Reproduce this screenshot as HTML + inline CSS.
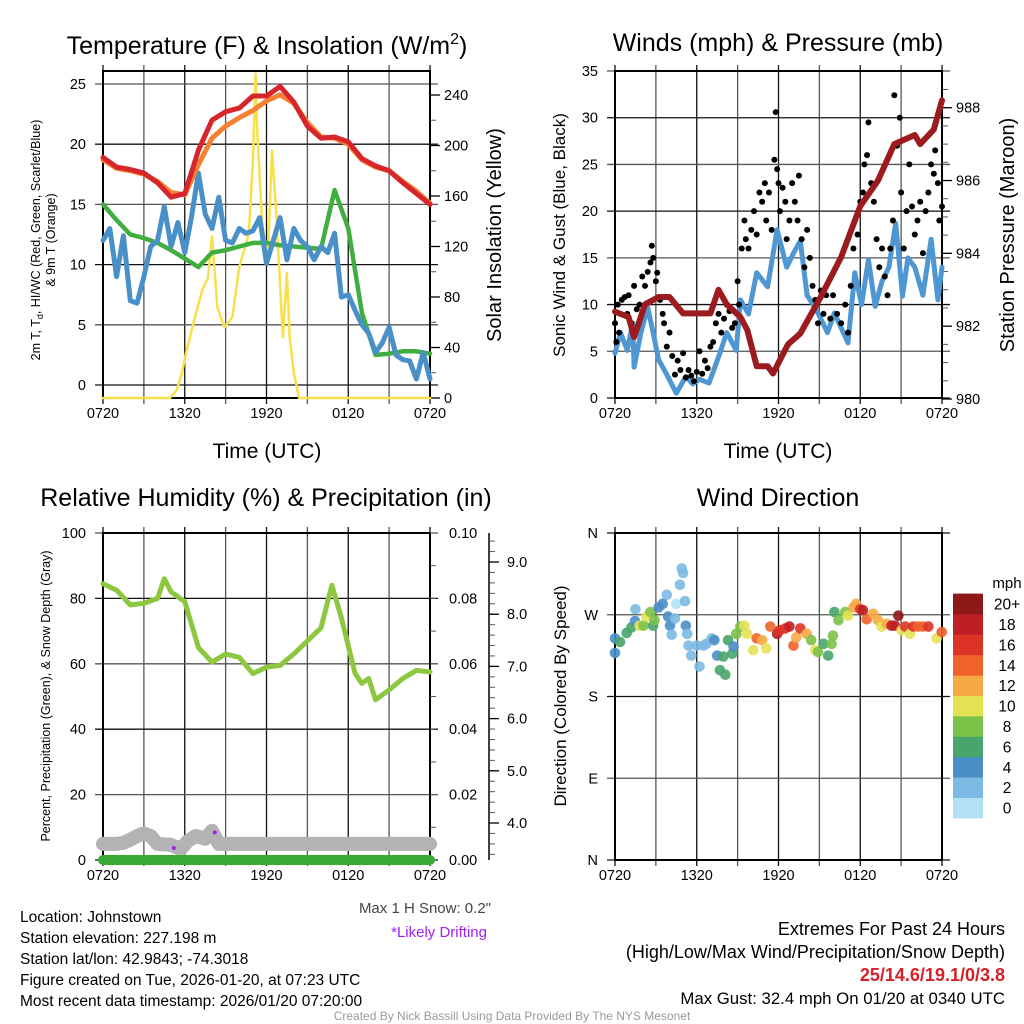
<!DOCTYPE html>
<html><head><meta charset="utf-8"><style>
html,body{margin:0;padding:0;background:#fff;}
svg{display:block;font-family:"Liberation Sans",Arial,sans-serif;}
</style></head><body>
<svg id="root" width="1024" height="1024" viewBox="0 0 1024 1024" xmlns="http://www.w3.org/2000/svg">
<rect width="1024" height="1024" fill="#fff"/>
<text x="267" y="54" font-size="25" text-anchor="middle">Temperature (F) &amp; Insolation (W/m<tspan font-size="16" dy="-10">2</tspan><tspan dy="10">)</tspan></text>
<text x="778" y="51" font-size="25" text-anchor="middle">Winds (mph) &amp; Pressure (mb)</text>
<text x="266" y="506" font-size="25" text-anchor="middle">Relative Humidity (%) &amp; Precipitation (in)</text>
<text x="778" y="506" font-size="25" text-anchor="middle">Wind Direction</text>
<text x="267" y="458" font-size="21" text-anchor="middle">Time (UTC)</text>
<text x="778" y="458" font-size="21" text-anchor="middle">Time (UTC)</text>
<text font-size="12.5" text-anchor="middle" transform="translate(40,240) rotate(-90)">2m T, T<tspan font-size="9" dy="3">d</tspan><tspan dy="-3">, HI/WC (Red, Green, Scarlet/Blue)</tspan></text>
<text font-size="12.5" text-anchor="middle" transform="translate(55,240) rotate(-90)">&amp; 9m T (Orange)</text>
<text font-size="20" text-anchor="middle" transform="translate(501,235) rotate(-90)">Solar Insolation (Yellow)</text>
<text font-size="17" text-anchor="middle" transform="translate(565,235) rotate(-90)">Sonic Wind &amp; Gust (Blue, Black)</text>
<text font-size="20" text-anchor="middle" transform="translate(1014,235) rotate(-90)">Station Pressure (Maroon)</text>
<text font-size="12.5" text-anchor="middle" transform="translate(50,696) rotate(-90)">Percent, Precipitation (Green), &amp; Snow Depth (Gray)</text>
<text font-size="17" text-anchor="middle" transform="translate(566,696) rotate(-90)">Direction (Colored By Speed)</text>
<text x="1007" y="588" font-size="15" text-anchor="middle">mph</text>
<g font-size="15.5">
<text x="20" y="922">Location: Johnstown</text>
<text x="20" y="943">Station elevation: 227.198 m</text>
<text x="20" y="964">Station lat/lon: 42.9843; -74.3018</text>
<text x="20" y="985">Figure created on Tue, 2026-01-20, at 07:23 UTC</text>
<text x="20" y="1006">Most recent data timestamp: 2026/01/20 07:20:00</text>
</g>
<text x="491" y="913" font-size="15" fill="#444" text-anchor="end">Max 1 H Snow: 0.2"</text>
<text x="487" y="937" font-size="15" fill="#a020f0" text-anchor="end">*Likely Drifting</text>
<g font-size="18" text-anchor="end">
<text x="1005" y="935">Extremes For Past 24 Hours</text>
<text x="1005" y="958">(High/Low/Max Wind/Precipitation/Snow Depth)</text>
<text x="1005" y="981" fill="#d42027" font-weight="bold">25/14.6/19.1/0/3.8</text>
<text x="1005" y="1004" font-size="16.8">Max Gust: 32.4 mph On 01/20 at 0340 UTC</text>
</g>
<text x="512" y="1020" font-size="12" fill="#999" text-anchor="middle">Created By Nick Bassill Using Data Provided By The NYS Mesonet</text>
</svg>
<script>
const timeTicks = ['0720','1320','1920','0120','0720'];
const tempTicks = [0,5,10,15,20,25];
const solarTicks = [0,40,80,120,160,200,240];
const windTicks = [0,5,10,15,20,25,30,35];
const presTicks = [980,982,984,986,988];
const rhTicks = [0,20,40,60,80,100];
const precipTicks = ['0.00','0.02','0.04','0.06','0.08','0.10'];
const snowTicks = [4,5,6,7,8,9];
const dirTicks = ['N','E','S','W','N'];
const speedLabels = ['0','2','4','6','8','10','12','14','16','18','20+'];
const speedColors = ['#b3e0f5','#7cb9e3','#4a8ec6','#48a56c','#7cc148','#e5e155','#f6aa45','#ef622a','#dd3326','#bf1e24','#8e1718'];

const hourly = [0,1,2,3,4,5,6,7,8,9,10,11,12,13,14,15,16,17,18,19,20,21,22,23,24];
const tempRed = [18.9,18.1,17.9,17.6,16.8,15.6,15.9,19.5,22.0,22.7,23.0,24.0,24.0,24.8,23.5,21.5,20.5,20.6,20.2,18.8,18.2,17.8,16.8,15.9,15.0];
const tempOrange = [18.7,18.0,17.8,17.5,16.9,16.0,15.8,18.3,20.5,21.5,22.2,22.8,23.6,24.1,23.4,21.8,20.6,20.5,20.0,18.7,18.1,17.8,16.9,16.1,15.1];
const dewGreen = [15,13.7,12.5,12.2,11.8,11.2,10.5,9.8,11,11.2,11.5,11.8,11.8,11.6,11.5,11.4,11.3,16.2,13,6,2.5,2.6,2.8,2.8,2.6];
const halfHourly = [0,0.5,1,1.5,2,2.5,3,3.5,4,4.5,5,5.5,6,6.5,7,7.5,8,8.5,9,9.5,10,10.5,11,11.5,12,12.5,13,13.5,14,14.5,15,15.5,16,16.5,17,17.5,18,18.5,19,19.5,20,20.5,21,21.5,22,22.5,23,23.5,24];
const windChill = [12,13,9,12.4,7,6.8,9,11.5,12,14.8,11.5,13.5,11,14,17.6,14.2,13,15.6,12,11.8,13,12.6,12.8,13.9,10.1,12,13.9,10.4,13,12,11.5,10.4,11.5,11,12.6,7.3,7.5,6.2,5,4.3,2.7,3.5,4.8,2.5,2.1,2,0.5,2.7,0.5];
const solarTimes = [0,4.9,5.4,5.8,6.1,6.7,7.3,7.7,8.0,8.4,8.9,9.5,10.0,10.7,11.0,11.2,11.3,11.7,12.1,12.4,12.7,13.2,13.5,13.7,14.0,14.4,24];
const solarValues = [0,0,6,20,36,62,86,95,128,72,56,64,104,130,188,257,215,136,112,196,150,48,99,48,20,0,0];

const presTimes = [0,1.0,1.4,2.2,3.2,4.0,5.0,6.0,7.0,7.6,8.2,9.2,9.7,10.4,11.2,11.6,12.7,13.6,15.1,16.6,18.0,19.3,20.5,22.0,22.4,23.4,24];
const presValues = [982.4,982.25,981.7,982.6,982.8,982.8,982.35,982.35,982.35,983.0,982.6,982.25,981.9,980.9,980.9,980.7,981.5,981.8,982.8,983.9,985.3,986.0,987.0,987.25,987.0,987.4,988.2];
const sonicTimes = [0,0.4,0.9,1.3,1.4,1.9,2.4,2.8,3.2,3.8,4.5,5.2,5.7,6.2,6.9,7.7,8.2,8.9,9.2,9.8,10.4,11.2,11.9,12.6,13.1,13.6,14.1,14.8,15.6,16.1,16.6,17.1,17.6,18.1,18.6,19.1,19.6,20.1,20.6,21.1,21.5,22.0,22.6,23.2,23.7,24];
const sonicValues = [4.8,7,5.1,8,3.3,7,9.7,7,4.1,2.5,0.5,2.3,1.5,2,1.6,4.8,7,5.1,10.5,9,13.4,11.9,18,14,15.5,16.8,11,9.4,7,9.1,7.5,5.9,13.4,10,14.8,9.8,12.5,14,18.7,10.9,15,14,11,17,10.5,14];
const gustTimes = [0,0.1,0.2,0.3,0.5,0.7,0.9,1.0,1.2,1.4,1.6,1.8,2.0,2.2,2.4,2.6,2.7,2.8,3.0,3.1,3.3,3.5,3.6,3.8,4.0,4.2,4.4,4.6,4.8,5.0,5.2,5.4,5.6,5.8,6.0,6.2,6.4,6.6,6.8,7.0,7.2,7.4,7.6,7.8,8.0,8.2,8.4,8.6,8.8,9.0,9.1,9.3,9.5,9.6,9.8,10.0,10.2,10.4,10.6,10.8,11.0,11.1,11.3,11.5,11.7,11.8,11.9,12.0,12.1,12.3,12.5,12.6,12.8,13.0,13.2,13.4,13.5,13.7,13.9,14.1,14.3,14.5,14.7,14.9,15.1,15.3,15.5,15.8,16.0,16.3,16.6,16.9,17.1,17.3,17.5,17.6,17.8,18.0,18.2,18.3,18.5,18.6,18.8,19.0,19.2,19.4,19.6,19.8,20.0,20.2,20.4,20.5,20.7,20.9,21.0,21.2,21.4,21.6,21.8,22.0,22.2,22.4,22.6,22.8,23.0,23.2,23.4,23.5,23.7,23.8,24.0];
const gustValues = [8,6,10,7,10.5,10.8,9,11,8,12,9.5,10,13,12,13.5,14.5,16.3,15,12.5,13.4,10.5,9,8,5.5,7,4.5,2.5,4,3,4.8,2.2,3,2.4,1.8,2.8,5,2.6,4,3.2,5.5,6,8,9,7,8.5,10,9.3,7.5,8,12.5,10,16,19,17,16,18,20,17.5,22,21,23,19,22,18,25.5,30.6,24.5,23,20,22.5,21,17,19,23,21,19,23.8,17,14,18,15,12,10.5,8,11.5,9,11,8.5,11,9,8,10,7,12,16,19,17.5,21,22,25,26,29.5,23,21,17,14,16,13,11,16,19,32.4,27,30,22,16,20,25,20.5,17.5,19,21,15.5,20,22,25,24,26.5,23,19,20.5];

const rhTimes = [0,1,2,3,4,4.5,5,6,7,8,9,10,11,12,13,14,15,16,16.8,17.5,18.5,19,19.5,20,21,22,23,24];
const rhValues = [84.5,82.5,78,78.5,80,86,82,79,65,60.5,63,62,57,59,59.5,63,67,71,84,74,57,54,55.5,49,52,55.5,58,57.5];
const precipValues = [0,0,0,0,0,0,0,0,0,0,0,0,0,0,0,0,0,0,0,0,0,0,0,0,0];
const snowTimes = [0,1,1.5,2,2.5,3,3.5,4,5,5.7,6.2,6.8,7.5,8,8.5,9,12,16,20,24];
const snowValues = [3.6,3.6,3.62,3.68,3.75,3.8,3.75,3.6,3.58,3.5,3.65,3.75,3.7,3.85,3.6,3.6,3.6,3.6,3.6,3.6];
const driftTimes = [5.2,8.2];
const driftValues = [3.52,3.82];

const dirTimes = [0,0,0.37,0.86,1.2,1.47,1.5,1.8,2.1,2.3,2.6,2.8,2.9,3.2,3.5,3.8,3.9,4.04,4.16,4.4,4.5,4.77,4.9,5.0,5.14,5.2,5.3,5.4,5.6,6.0,6.2,6.5,6.7,7.1,7.3,7.5,7.7,7.95,8.1,8.3,8.6,8.7,8.9,9.2,9.5,9.7,10.15,10.4,10.8,11.1,11.4,11.9,12.1,12.5,12.8,13.1,13.3,13.6,14.07,14.4,14.7,14.9,15.3,15.65,15.9,16.0,16.1,16.4,16.9,17.1,17.5,17.7,18.0,18.2,18.47,18.96,19.3,19.57,19.94,20.3,20.55,20.8,21.04,21.3,21.65,21.9,22.26,22.6,23.0,23.6,23.98];
const dirValues = [244,228,240,250,256,263,276,258,258,268,273,258,264,278,282,292,268,258,248,266,282,303,321,316,285,258,249,236,225,236,213,236,238,244,242,225,209,224,204,242,227,235,249,257,258,249,231,244,242,233,257,249,253,255,257,236,245,255,249,242,231,229,238,225,238,247,273,264,273,269,278,282,276,275,265,271,264,257,260,258,258,269,253,257,249,257,257,257,257,244,251];
const dirSpeeds = [4,4,6,6,6,4,2,10,8,10,8,6,8,4,4,2,4,4,2,2,0,2,2,2,2,4,2,2,2,2,2,2,2,2,4,4,6,6,6,6,6,4,8,8,10,10,10,14,12,10,14,18,16,16,18,14,12,16,12,8,10,8,6,6,8,8,6,8,8,10,12,12,16,18,14,12,12,10,12,18,18,20,10,16,10,16,14,14,16,10,14];

const NS='http://www.w3.org/2000/svg';
const root=document.getElementById('root');
function mk(tag,attrs,parent){const e=document.createElementNS(NS,tag);for(const k in attrs)e.setAttribute(k,attrs[k]);(parent||root).appendChild(e);return e;}

function axisX(x0,x1){return h=>x0+(x1-x0)*h/24;}
function lin(v0,y0,v1,y1){return v=>y0+(v-v0)*(y1-y0)/(v1-v0);}

function panel(name,x0,x1,y0,y1,hYs,leftTicks,leftYs){
  const g=mk('g',{});
  
  
  for(let i=0;i<=8;i++){
    const x=x0+(x1-x0)*i/8;
    const l=mk('line',{x1:x,x2:x,y1:y0-6,y2:y1+6,stroke:i%2?'#555':'#111','stroke-width':1.3},g);
    
    
  }
  hYs.forEach((y,i)=>{
    const l=mk('line',{x1:x0-8,x2:x1+8,y1:y,y2:y,stroke:i%2?'#555':'#111','stroke-width':1.3},g);
    
    
  });
  const f=mk('rect',{x:x0,y:y0,width:x1-x0,height:y1-y0,fill:'none',stroke:'#000','stroke-width':2},g);
  
  
  timeTicks.forEach((t,i)=>{
    const tx=mk('text',{x:x0+(x1-x0)*i/4,y:y1+20,'font-size':14.5,'text-anchor':'middle'},g);
    
    
    tx.textContent=t;
  });
  leftTicks.forEach((t,i)=>{
    const tx=mk('text',{x:x0-17,y:leftYs[i]+5,'font-size':14.5,'text-anchor':'end'},g);
    
    
    tx.textContent=t;
  });
  return g;
}
function rightAxis(x,ticks,yf,minorStep,vmin,vmax){
  for(let v=vmin;v<=vmax+1e-9;v+=minorStep){
    const l=mk('line',{x1:x,x2:x+6,y1:yf(v),y2:yf(v),stroke:'#555','stroke-width':1});
    
    
  }
  ticks.forEach(t=>{
    const l=mk('line',{x1:x,x2:x+10,y1:yf(t),y2:yf(t),stroke:'#000','stroke-width':1.3});
    
    
    const tx=mk('text',{x:x+14,y:yf(t)+5,'font-size':14.5});
    
    
    tx.textContent=t;
  });
}
function path(xs,ys,xf,yf,color,w,name){
  let d='';xs.forEach((h,i)=>{d+=(i?'L':'M')+xf(h).toFixed(1)+','+yf(ys[i]).toFixed(1);});
  const p=mk('path',{d:d,fill:'none',stroke:color,'stroke-width':w,'stroke-linejoin':'round','stroke-linecap':'round'});
  
  
  return p;
}

// Top-left
const xTL=axisX(103,430), yT=lin(0,385,25,84), yS=lin(0,398,240,95);
panel('temperature-panel',103,430,71,398,tempTicks.map(yT),tempTicks,tempTicks.map(yT));
rightAxis(430,solarTicks,yS,20,0,250);
path(solarTimes,solarValues,xTL,yS,'#f9e04b',2.5,'solar-insolation-line');
path(hourly,dewGreen,xTL,yT,'#3fae3f',4.5,'dewpoint-line');
path(halfHourly,windChill,xTL,yT,'#4a90c8',5,'wind-chill-line');
path(hourly,tempOrange,xTL,yT,'#f58232',5,'temp-9m-line');
path(hourly,tempRed,xTL,yT,'#d7262b',5,'temp-2m-line');

// Top-right
const xTR=axisX(615,942), yW=lin(0,398,35,71), yP=lin(980,399,988,107.7);
panel('wind-panel',615,942,71,398,windTicks.map(yW),windTicks,windTicks.map(yW));
rightAxis(942,presTicks,yP,0.5,980,988.5);
path(sonicTimes,sonicValues,xTR,yW,'#4f97d2',5,'sonic-wind-line');
gustTimes.forEach((h,i)=>{
  const c=mk('circle',{cx:xTR(h),cy:yW(gustValues[i]),r:3,fill:'#000'});
  
  
});
path(presTimes,presValues,xTR,yP,'#9b1b1e',6,'pressure-line');

// Bottom-left
const xBL=axisX(103,430), yRH=lin(0,860,100,533), ySn=lin(4,823,9,562);
panel('humidity-panel',103,430,533,860,rhTicks.map(yRH),rhTicks,rhTicks.map(yRH));
rightAxis(430,[],yRH,10,0,100);
precipTicks.forEach((t,i)=>{
  const tx=mk('text',{x:449,y:yRH(i*20)+5,'font-size':14.5});
  
  
  tx.textContent=t;
});
const sax=mk('line',{x1:489,x2:489,y1:533,y2:860,stroke:'#000','stroke-width':1.5});


for(let v=3.4;v<=9.5;v+=0.2){
  const l=mk('line',{x1:489,x2:495,y1:ySn(v),y2:ySn(v),stroke:'#555','stroke-width':1});
  
  
}
snowTicks.forEach(t=>{
  const l=mk('line',{x1:489,x2:499,y1:ySn(t),y2:ySn(t),stroke:'#000','stroke-width':1.3});
  
  
  const tx=mk('text',{x:507,y:ySn(t)+5,'font-size':14.5});
  
  
  tx.textContent=t.toFixed(1);
});
path(snowTimes,snowValues,xBL,ySn,'#b3b3b3',14,'snow-depth-line');
path(hourly,precipValues.map(v=>v*1000),xBL,yRH,'#3aaa35',10,'precip-line');
driftTimes.forEach((h,i)=>{
  const c=mk('circle',{cx:xBL(h),cy:ySn(driftValues[i]),r:2,fill:'#a020f0'});
  
  
});
path(rhTimes,rhValues,xBL,yRH,'#8dc63f',5,'rh-line');

// Bottom-right
const xBR=axisX(615,942), yD=lin(0,860,360,533);
const dirVals=[0,90,180,270,360];
panel('direction-panel',615,942,533,860,dirVals.map(yD),dirTicks,dirVals.map(yD));
dirTimes.forEach((h,i)=>{
  const lvl=Math.min(10,Math.floor(dirSpeeds[i]/2));
  const c=mk('circle',{cx:xBR(h),cy:yD(dirValues[i]),r:5.3,fill:speedColors[lvl],opacity:0.9});
  
  
});
speedLabels.forEach((s,i)=>{
  const y=818-(i+1)*20.4;
  const r=mk('rect',{x:953,y:y,width:30,height:20.8,fill:speedColors[i]});
  
  
  const tx=mk('text',{x:1007,y:y+16,'font-size':15.5,'text-anchor':'middle'});
  
  
  tx.textContent=s;
});
</script>
</body></html>
